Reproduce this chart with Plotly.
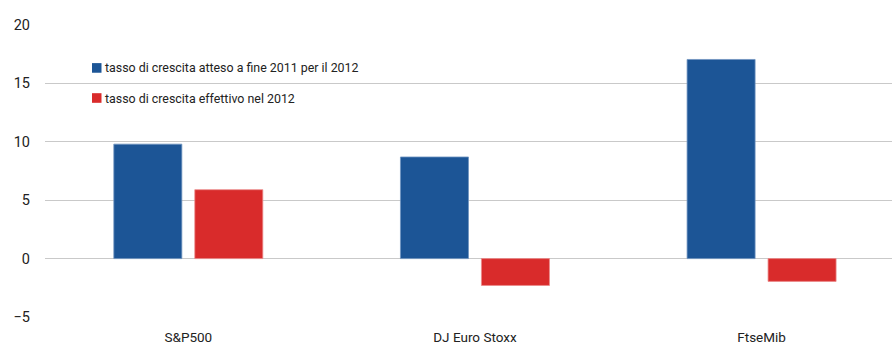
import plotly.graph_objects as go

categories = ["S&P500", "DJ Euro Stoxx", "FtseMib"]
series_names = ["tasso di crescita atteso a fine 2011 per il 2012",
                "tasso di crescita effettivo nel 2012"]
series_colors = ["#1c5596", "#d92b2b"]
expected = [9.8, 8.7, 17.05]
actual = [5.9, -2.3, -1.95]
y_ticks = [-5, 0, 5, 10, 15, 20]

FONT = "Roboto, Arial, sans-serif"

fig = go.Figure()
fig.add_trace(go.Bar(x=categories, y=expected, name=series_names[0],
                     marker=dict(color=series_colors[0], line=dict(color="#6f94c0", width=0.8))))
fig.add_trace(go.Bar(x=categories, y=actual, name=series_names[1],
                     marker=dict(color=series_colors[1], line=dict(color="#eb8a8a", width=0.8))))

# legend drawn as text + colour keys at the upper left of the plot
legend_y = [0.853, 0.750]
for name, col, yy in zip(series_names, series_colors, legend_y):
    fig.add_annotation(xref="paper", yref="paper", x=0.0685, y=yy,
                       xanchor="left", yanchor="middle", showarrow=False,
                       text=name, font=dict(size=12.4, color="#222"))
    fig.add_shape(type="rect", xref="paper", yref="paper",
                  x0=0.0555, x1=0.0667, y0=yy - 0.0165, y1=yy + 0.0165,
                  fillcolor=col, line=dict(width=0))

fig.update_layout(
    width=892, height=345,
    margin=dict(l=45, r=0, t=25, b=28),
    paper_bgcolor="white", plot_bgcolor="white",
    barmode="group", bargap=0.435, bargroupgap=0.16,
    font=dict(family=FONT, size=14, color="#222"),
    showlegend=False,
    xaxis=dict(range=[-0.5, 2.455], showgrid=False, zeroline=False,
               showline=False, ticks="", tickfont=dict(size=13.5), ticklabelstandoff=10),
    yaxis=dict(range=[-5, 20], tickvals=y_ticks, showgrid=True,
               gridcolor="#c9c9c9", gridwidth=1.2, zeroline=True,
               zerolinecolor="#c9c9c9", zerolinewidth=1.2, showline=False,
               ticks="", tickfont=dict(size=14.5), ticklabelstandoff=14),
)

fig.write_html("out.html", config={"displayModeBar": False},
               post_script="document.body.style.margin='0';")
